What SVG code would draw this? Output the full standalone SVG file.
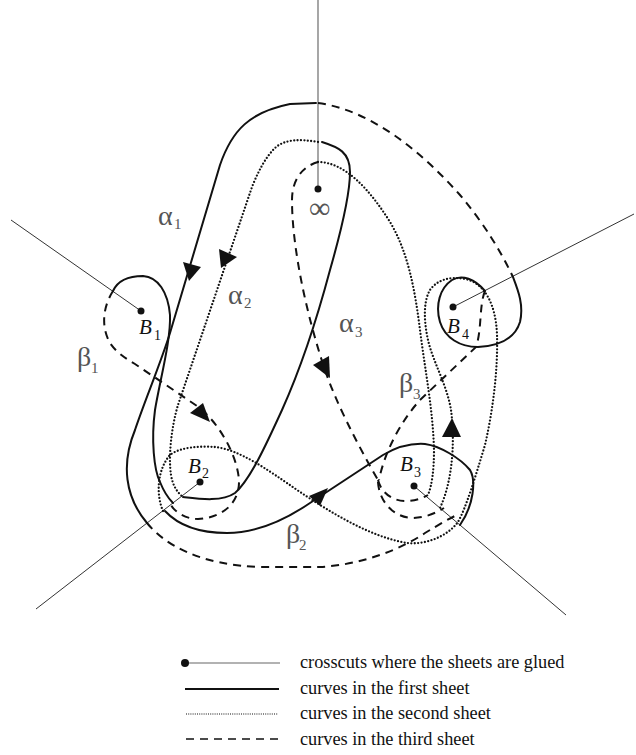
<svg xmlns="http://www.w3.org/2000/svg" width="636" height="755" viewBox="0 0 636 755">
<style>
.solid{fill:none;stroke:#111;stroke-width:2;stroke-linecap:round;stroke-linejoin:round}
.dash{fill:none;stroke:#111;stroke-width:2;stroke-dasharray:8 6}
.dot{fill:none;stroke:#111;stroke-width:2.3;stroke-dasharray:0 3.4;stroke-linecap:round}
.cut{fill:none;stroke:#333;stroke-width:1}
.cutg{fill:none;stroke:#777;stroke-width:1.3}
.arr{fill:#111;stroke:none}
.pt{fill:#111}
.gr{font-family:"Liberation Serif","Times New Roman",serif;font-size:28px;fill:#555}
.inf{font-family:"Liberation Serif","Times New Roman",serif;font-size:30px;fill:#555}
.grs{font-family:"Liberation Serif","Times New Roman",serif;font-size:15px;fill:#555}
.bl{font-family:"Liberation Serif","Times New Roman",serif;font-size:21px;font-style:italic;fill:#111}
.bls{font-family:"Liberation Serif","Times New Roman",serif;font-size:14px;fill:#111}
.lg{font-family:"Liberation Serif","Times New Roman",serif;font-size:18.3px;fill:#111}
</style>

<g id="crosscuts">
<g id="inf"><line class="cutg" x1="318" y1="0" x2="318" y2="189"/><circle class="pt" cx="318" cy="189" r="3.5"/><text class="inf" x="309" y="218">∞</text></g>
<g id="B1"><line class="cut" x1="11" y1="220" x2="141" y2="311"/><circle class="pt" cx="141" cy="311" r="3.5"/><text class="bl" x="139" y="334">B</text><text class="bls" x="154" y="340">1</text></g>
<g id="B2"><line class="cut" x1="36" y1="609" x2="200" y2="482"/><circle class="pt" cx="200" cy="482" r="3.5"/><text class="bl" x="188" y="473">B</text><text class="bls" x="202" y="478">2</text></g>
<g id="B3"><line class="cut" x1="414" y1="486" x2="566" y2="615"/><circle class="pt" cx="414" cy="486" r="3.5"/><text class="bl" x="400" y="471">B</text><text class="bls" x="414" y="477">3</text></g>
<g id="B4"><line class="cut" x1="453" y1="307" x2="634" y2="214"/><circle class="pt" cx="453" cy="307" r="3.5"/><text class="bl" x="447" y="333">B</text><text class="bls" x="462" y="339">4</text></g>
</g>

<g id="connectors">
<!-- first sheet (solid) -->
<path class="solid" d="M316,103 L290,104 C250,112 232,130 220,165 L170,333 C160,365 145,400 135,430 C121,464 125,497 147,523"/>
<path class="solid" d="M322,142 C338,147 350,152 350,172 C350,195 340,235 330,270 C318,315 300,370 282,410 C266,445 250,480 235,493 C222,502 200,499 183,497"/>
<path class="solid" d="M113,291 C118,280 128,276 143,276 C158,277 168,292 170,315 C171,340 160,380 155,410 C151,440 154,470 160,482 C164,492 168,498 173,503"/>
<path class="solid" d="M165,511 C178,525 200,533 227,533 C255,533 285,520 310,503 L383,455 C395,448 410,443 425,444 C440,446 460,458 470,470 C476,480 474,505 460,525"/>
<path class="solid" d="M513,277 C518,290 524,305 520,322 C515,338 500,346 478,347 C460,347 445,338 440,322 C435,305 440,288 452,280 C462,274 475,279 485,291"/>

<!-- third sheet (dashed) -->
<path class="dash" d="M318,103 C370,110 420,150 460,195 C485,225 500,250 513,277"/>
<path class="dash" d="M485,291 C479,305 482,330 476,347 L420,400 C402,420 385,450 379,480"/>
<path class="dash" d="M318,162 C304,166 292,178 292,200 C292,250 308,320 325,370 C335,400 355,440 378,480"/>
<path class="dash" d="M113,291 C104,305 100,325 110,343 C116,352 125,358 135,364 L200,408 C220,425 237,455 239,480 C240,505 220,518 198,519 C185,519 175,512 171,505"/>
<path class="dash" d="M147,523 C165,545 200,565 260,567 L320,567 C360,565 400,550 425,533 C440,524 450,518 457,515"/>
<path class="dash" d="M378,480 C381,492 392,501 405,501 C415,501 423,498 428,495"/>
<path class="dash" d="M378,482 C379,500 392,517 412,518 C425,518 436,513 444,508"/>

<!-- second sheet (dotted) -->
<path class="dot" d="M318,142 C300,139 285,139 275,148 C265,158 258,172 252,187 L178,405 C172,425 168,455 171,475 C173,487 178,493 183,497"/>
<path class="dot" d="M318,162 C345,162 370,190 390,222 C408,252 415,290 420,330 C425,370 433,410 434,450 C434,470 432,485 428,495"/>
<path class="dot" d="M163,511 C156,495 157,470 170,455 C180,447 200,446 215,447 C240,450 265,468 300,492 C330,512 370,537 407,543 C425,545 447,537 458,522 C466,508 475,478 485,445 C493,410 498,370 497,335 C496,305 485,283 465,279 C450,276 437,280 430,290 C423,302 424,322 428,340 C433,362 447,385 451,410 C455,440 453,480 440,508"/>

<!-- arrowheads -->
<polygon class="arr" points="183,262 201,267 189,281"/>
<polygon class="arr" points="219,249 237,257 221,268"/>
<polygon class="arr" points="313,365 329,356 330,378"/>
<polygon class="arr" points="190,413 203,403 210,422"/>
<polygon class="arr" points="309,496 328,488 320,506"/>
<polygon class="arr" points="442,437 452,418 461,437"/>
</g>

<g id="labels">
<text class="gr" x="158" y="225">α</text><text class="grs" x="174" y="229">1</text>
<text class="gr" x="228" y="304">α</text><text class="grs" x="244" y="308">2</text>
<text class="gr" x="339" y="332">α</text><text class="grs" x="355" y="337">3</text>
<text class="gr" x="77" y="366">β</text><text class="grs" x="91" y="373">1</text>
<text class="gr" x="286" y="543">β</text><text class="grs" x="299" y="550">2</text>
<text class="gr" x="399" y="392">β</text><text class="grs" x="413" y="399">3</text>
</g>

<g id="legend">
<line x1="185" y1="663" x2="280" y2="663" stroke="#666" stroke-width="1.2"/><circle class="pt" cx="185" cy="663" r="4"/>
<text class="lg" x="300" y="668">crosscuts where the sheets are glued</text>
<line x1="185" y1="689" x2="279" y2="689" stroke="#111" stroke-width="2"/>
<text class="lg" x="300" y="694">curves in the first sheet</text>
<line x1="186" y1="714" x2="278" y2="714" stroke="#111" stroke-width="1.2" stroke-dasharray="1 1.2"/>
<text class="lg" x="300" y="719">curves in the second sheet</text>
<line x1="186" y1="739" x2="278" y2="739" stroke="#111" stroke-width="1.6" stroke-dasharray="8 6"/>
<text class="lg" x="300" y="745">curves in the third sheet</text>
</g>
</svg>
